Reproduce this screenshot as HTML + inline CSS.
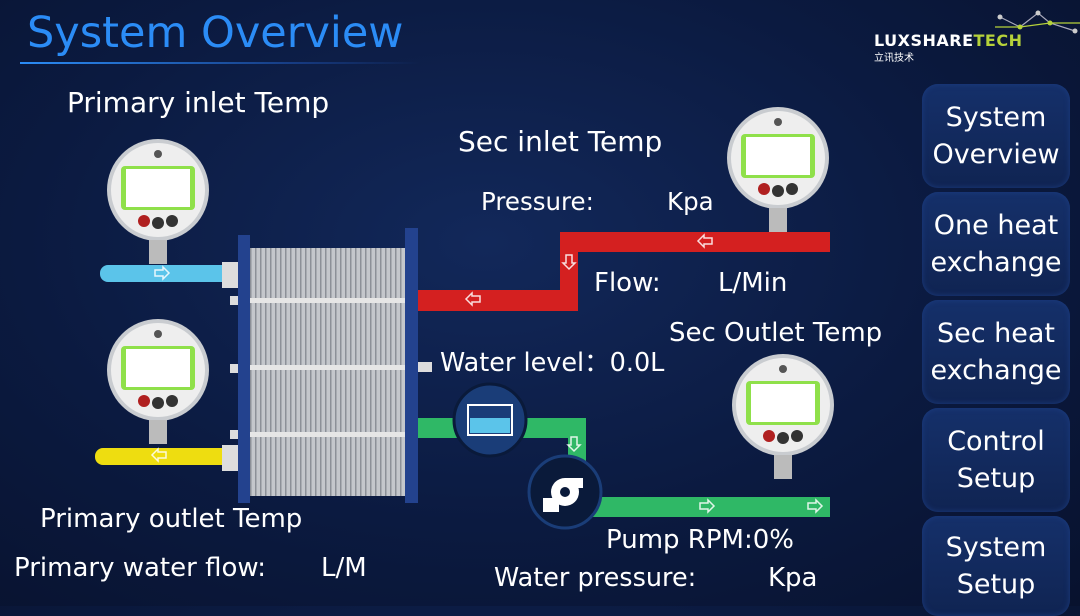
<!DOCTYPE html>
<html><head><meta charset="utf-8"><style>
body{margin:0;width:1080px;height:606px;overflow:hidden;background:radial-gradient(ellipse at 45% 40%,#12285a 0%,#0b1a40 55%,#08122e 100%);font-family:"DejaVu Sans","Liberation Sans",sans-serif;position:relative}
.t{position:absolute;color:#fff;white-space:nowrap;font-size:26px}
.btn{position:absolute;left:922px;width:148px;border-radius:16px;background:linear-gradient(#15306a,#102452);box-shadow:0 0 6px #1c3c80 inset;color:#fff;font-size:27px;text-align:center;line-height:37px;display:flex;align-items:center;justify-content:center}
</style></head><body>
<div class="t" style="left:27px;top:8px;font-size:43px;color:#2b8cf6">System Overview</div>
<div style="position:absolute;left:20px;top:62px;width:400px;height:2px;background:linear-gradient(90deg,#2b8cf6,#163a80 70%,transparent)"></div>
<div class="t" style="left:874px;top:31px;font-size:16px;font-weight:bold;letter-spacing:0.5px">LUXSHARE<span style="color:#b6d23a">TECH</span></div>
<div class="t" style="left:874px;top:49px;font-size:10px;font-family:'Noto Sans CJK SC',sans-serif">立讯技术</div>
<svg style="position:absolute;left:950px;top:5px" width="130" height="30"><polyline points="50,12 70,22 88,8 100,18 125,26" fill="none" stroke="#aab" stroke-width="1.2"/><polyline points="45,22 70,22 100,18 135,18" fill="none" stroke="#b6d23a" stroke-width="1.2"/><circle cx="50" cy="12" r="2.5" fill="#ccc"/><circle cx="70" cy="22" r="2.5" fill="#b6d23a"/><circle cx="88" cy="8" r="2.5" fill="#ccc"/><circle cx="100" cy="18" r="2.5" fill="#b6d23a"/><circle cx="125" cy="26" r="2.5" fill="#ccc"/></svg>

<div class="btn" style="top:84px;height:104px">System<br>Overview</div>
<div class="btn" style="top:192px;height:104px">One heat<br>exchange</div>
<div class="btn" style="top:300px;height:104px">Sec heat<br>exchange</div>
<div class="btn" style="top:408px;height:104px">Control<br>Setup</div>
<div class="btn" style="top:516px;height:100px">System<br>Setup</div>

<svg style="position:absolute;left:0;top:0" width="1080" height="606">
<defs>
<pattern id="fin" width="5" height="10" patternUnits="userSpaceOnUse"><rect width="5" height="10" fill="#c4c7cc"/><rect width="1.5" height="10" fill="#8c9098"/></pattern>
<g id="g"><circle r="51" fill="#c9ccd0"/><circle r="47" fill="#eeeeee"/><rect x="-37" y="-24" width="74" height="44" rx="4" fill="#8fe04a"/><rect x="-32" y="-21" width="64" height="38" fill="#fff"/><circle cx="-14" cy="31" r="6" fill="#b02020"/><circle cx="0" cy="33" r="6" fill="#333"/><circle cx="14" cy="31" r="6" fill="#333"/><circle cx="0" cy="-36" r="4" fill="#555"/><rect x="-9" y="50" width="18" height="24" fill="#bbb"/></g>
</defs>
<rect x="100" y="265" width="140" height="17" rx="8" fill="#5bc4ea"/>
<rect x="95" y="448" width="145" height="17" rx="8" fill="#eedd10"/>
<path d="M418 290 H560 V232 H830 V252 H578 V311 H418Z" fill="#d42020"/>
<path d="M418 418 H586 V470 H568 V438 H418Z" fill="#2fb866"/>
<rect x="590" y="497" width="240" height="20" fill="#2fb866"/>
<g fill="none" stroke="#fff" stroke-width="1.5" opacity=".85">
<path d="M155 270h8v-3l6 6-6 6v-3h-8z"/><path d="M166 452h-8v-3l-6 6 6 6v-3h8z"/>
<path d="M480 296h-8v-3l-6 6 6 6v-3h8z"/><path d="M712 238h-8v-3l-6 6 6 6v-3h8z"/>
<path d="M566 255v8h-3l6 6 6-6h-3v-8z"/><path d="M571 437v8h-3l6 6 6-6h-3v-8z"/>
<path d="M700 503h8v-3l6 6-6 6v-3h-8z"/><path d="M808 503h8v-3l6 6-6 6v-3h-8z"/>
</g>
<rect x="222" y="262" width="16" height="26" fill="#ddd"/><rect x="222" y="445" width="16" height="26" fill="#ddd"/>
<rect x="248" y="248" width="158" height="248" fill="url(#fin)"/>
<rect x="248" y="298" width="158" height="5" fill="#e6e6e6"/><rect x="248" y="365" width="158" height="5" fill="#e6e6e6"/><rect x="248" y="432" width="158" height="5" fill="#e6e6e6"/>
<rect x="238" y="235" width="12" height="268" fill="#23428e"/>
<rect x="405" y="228" width="13" height="275" fill="#23428e"/>
<rect x="230" y="296" width="8" height="9" fill="#ddd"/><rect x="230" y="364" width="8" height="9" fill="#ddd"/><rect x="230" y="430" width="8" height="9" fill="#ddd"/>
<rect x="418" y="362" width="14" height="10" fill="#ddd"/>
<use href="#g" x="158" y="190"/><use href="#g" x="158" y="370"/>
<use href="#g" x="778" y="158"/><use href="#g" x="783" y="405"/>
<circle cx="490" cy="420" r="36" fill="#1a3d78" stroke="#0a1a3a" stroke-width="3"/>
<rect x="468" y="405" width="44" height="30" fill="none" stroke="#fff" stroke-width="2"/><rect x="470" y="418" width="40" height="15" fill="#5bc4ea"/>
<circle cx="565" cy="492" r="36" fill="#0a1a3a" stroke="#1a3d78" stroke-width="3"/>
<circle cx="565" cy="492" r="14" fill="#fff"/><rect x="543" y="498" width="16" height="14" fill="#fff"/><rect x="565" y="478" width="18" height="10" fill="#fff"/>
<circle cx="565" cy="492" r="5" fill="#0a1a3a"/>
</svg>

<div class="t" style="left:67px;top:86px;font-size:28px">Primary inlet Temp</div>
<div class="t" style="left:458px;top:125px;font-size:28px">Sec inlet Temp</div>
<div class="t" style="left:481px;top:187px;font-size:24.5px">Pressure:</div>
<div class="t" style="left:667px;top:187px;font-size:24.5px">Kpa</div>
<div class="t" style="left:594px;top:268px">Flow:</div>
<div class="t" style="left:718px;top:268px">L/Min</div>
<div class="t" style="left:669px;top:318px">Sec Outlet Temp</div>
<div class="t" style="left:440px;top:342px;font-size:25.5px">Water level：0.0L</div>
<div class="t" style="left:40px;top:504px">Primary outlet Temp</div>
<div class="t" style="left:14px;top:553px">Primary water flow:</div>
<div class="t" style="left:321px;top:553px">L/M</div>
<div class="t" style="left:606px;top:525px">Pump RPM:0%</div>
<div class="t" style="left:494px;top:563px;font-size:25.5px">Water pressure:</div>
<div class="t" style="left:768px;top:563px">Kpa</div>
</body></html>
